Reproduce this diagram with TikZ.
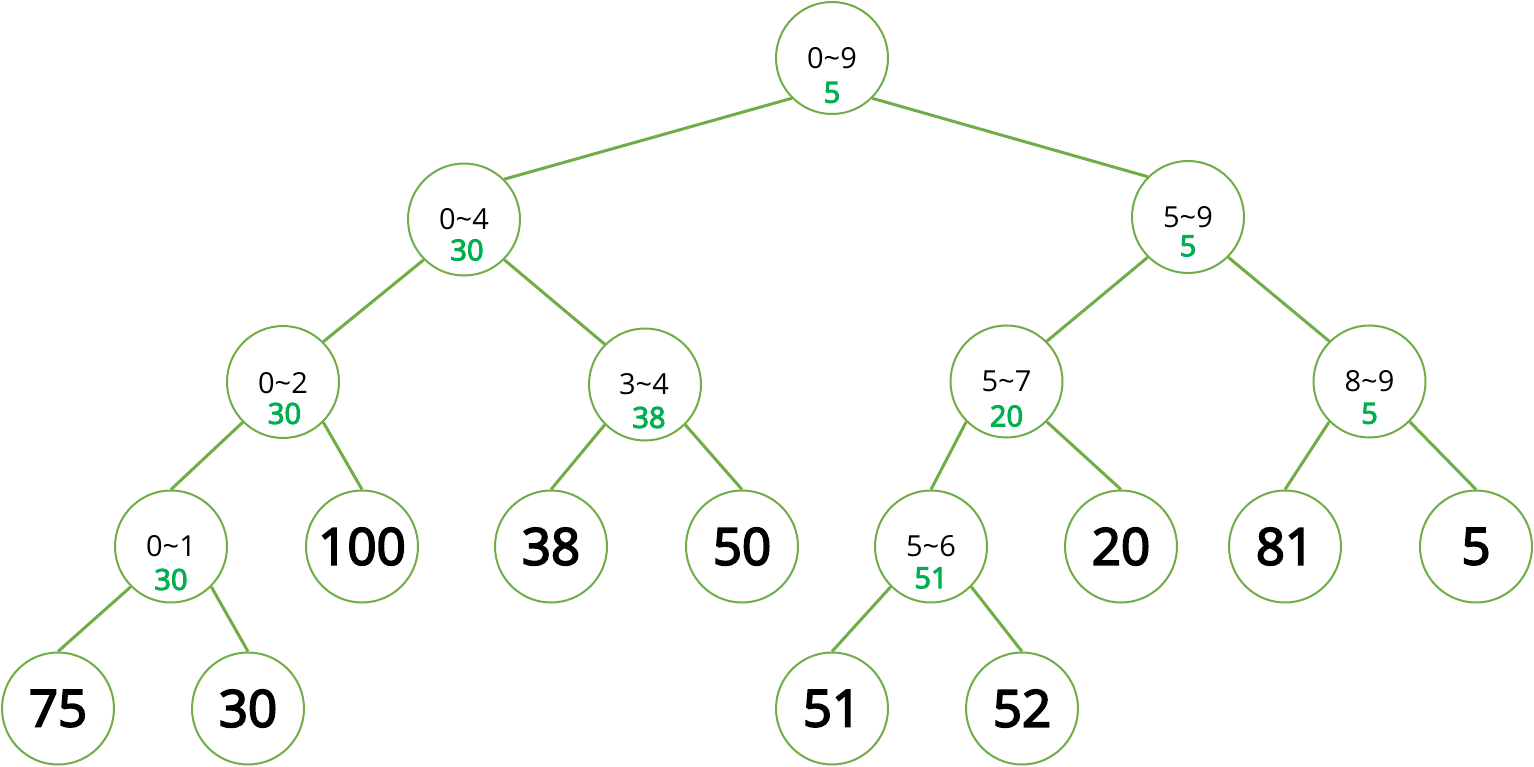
\documentclass[tikz,border=0pt]{standalone}
\usepackage{fontspec}
\setmainfont{Open Sans}
\newfontfamily\semibold{Open Sans}[FakeBold=3.5]
\definecolor{segline}{HTML}{70AD47}
\definecolor{segval}{HTML}{00B050}
\tikzset{
	seg/.style={circle, draw=segline, line width=2pt, fill=white, minimum size=112pt, inner sep=0pt},
	rng/.style={font=\fontsize{29}{29}\selectfont, inner sep=0pt},
	val/.style={font=\fontsize{29}{29}\selectfont\semibold, text=segval, inner sep=0pt},
	leaf/.style={seg, font=\fontsize{51}{51}\selectfont\semibold},
	branch/.style={draw=segline, line width=3pt}
}

\begin{document}
\begin{tikzpicture}[x=1pt, y=-1pt]
			%%%%% START %%%%%
			\useasboundingbox (0, 0) rectangle (1534, 767);
			
			% range nodes
			\node[seg] (s09) at (832, 58) {};
			\node[rng] at (s09) {0\textasciitilde9};
			\node[val] at ([yshift=-34.5pt]s09) {5};
			
			\node[seg] (s04) at (464, 219.5) {};
			\node[rng] at (s04) {0\textasciitilde4};
			\node[val] at ([xshift=3pt, yshift=-30.5pt]s04) {30};
			
			\node[seg] (s59) at (1188, 217) {};
			\node[rng] at (s59) {5\textasciitilde9};
			\node[val] at ([yshift=-29pt]s59) {5};
			
			\node[seg] (s02) at (283, 382) {};
			\node[rng] at ([yshift=-1pt]s02) {0\textasciitilde2};
			\node[val] at ([xshift=1.5pt, yshift=-31.5pt]s02) {30};
			
			\node[seg] (s34) at (645, 384.5) {};
			\node[rng] at ([xshift=-1pt]s34) {3\textasciitilde4};
			\node[val] at ([xshift=4pt, yshift=-33pt]s34) {38};
			
			\node[seg] (s57) at (1006.5, 381.5) {};
			\node[rng] at (s57) {5\textasciitilde7};
			\node[val] at ([yshift=-34.5pt]s57) {20};
			
			\node[seg] (s89) at (1369.5, 381.5) {};
			\node[rng] at (s89) {8\textasciitilde9};
			\node[val] at ([yshift=-32pt]s89) {5};
			
			\node[seg] (s01) at (171, 546.5) {};
			\node[rng] at (s01) {0\textasciitilde1};
			\node[val] at ([yshift=-33pt]s01) {30};
			
			\node[seg] (s56) at (931, 546.5) {};
			\node[rng] at (s56) {5\textasciitilde6};
			\node[val] at ([yshift=-31.5pt]s56) {51};
			
			% leaves
			\node[leaf] (l100) at (362, 546.5) {100};
			\node[leaf] (l38) at (551, 546.5) {38};
			\node[leaf] (l50) at (742, 546.5) {50};
			\node[leaf] (l20) at (1121, 546.5) {20};
			\node[leaf] (l81) at (1285, 546.5) {81};
			\node[leaf] (l5) at (1476, 546.5) {5};
			\node[leaf] (l75) at (58, 708.5) {75};
			\node[leaf] (l30) at (248, 708.5) {30};
			\node[leaf] (l51) at (832, 708.5) {51};
			\node[leaf] (l52) at (1022, 708.5) {52};
			
			% branches
			\draw[branch] (s09.south west) -- (s04.north east);
			\draw[branch] (s09.south east) -- (s59.north west);
			\draw[branch] (s04.south west) -- (s02.north east);
			\draw[branch] (s04.south east) -- (s34.north west);
			\draw[branch] (s59.south west) -- (s57.north east);
			\draw[branch] (s59.south east) -- (s89.north west);
			\draw[branch] (s02.south west) -- (s01.north);
			\draw[branch] (s02.south east) -- (l100.north);
			\draw[branch] (s34.south west) -- (l38.north);
			\draw[branch] (s34.south east) -- (l50.north);
			\draw[branch] (s57.south west) -- (s56.north);
			\draw[branch] (s57.south east) -- (l20.north);
			\draw[branch] (s89.south west) -- (l81.north);
			\draw[branch] (s89.south east) -- (l5.north);
			\draw[branch] (s01.south west) -- (l75.north);
			\draw[branch] (s01.south east) -- (l30.north);
			\draw[branch] (s56.south west) -- (l51.north);
			\draw[branch] (s56.south east) -- (l52.north);
			
			%%%%% END %%%%%
\end{tikzpicture}
\end{document}
